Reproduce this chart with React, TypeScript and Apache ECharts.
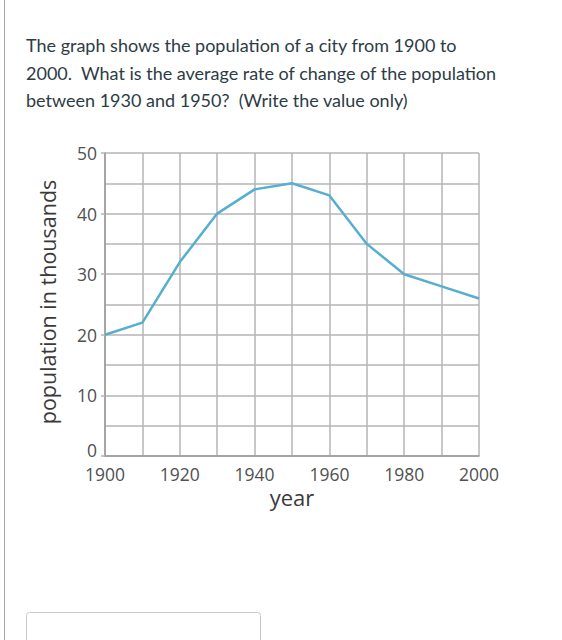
import React, { useEffect, useRef } from "react";
import * as echarts from "echarts";

const years = [1900, 1910, 1920, 1930, 1940, 1950, 1960, 1970, 1980, 1990, 2000];
const population = [20, 22, 32, 40, 44, 45, 43, 35, 30, 28, 26];
const questionLines = [
  "The graph shows the population of a city from 1900 to",
  "2000.\u00a0\u00a0What is the average rate of change of the population",
  "between 1930 and 1950?\u00a0\u00a0(Write the value only)",
];
const xAxisTitle = "year";
const yAxisTitle = "population in thousands";
const yMin = 0;

export default function App() {
  const ref = useRef<HTMLDivElement>(null);
  useEffect(() => {
    if (!ref.current) return;
    const chart = echarts.init(ref.current, null, { renderer: "svg" });
    const lineYs = [45, 73, 100];
    const option: any = {
      animation: false,
      backgroundColor: "#ffffff",
      grid: { left: 105, right: 83, top: 153, bottom: 184 },
      xAxis: {
        type: "value",
        min: 1900,
        max: 2000,
        interval: 20,
        axisLine: { show: true, lineStyle: { color: "#9a9a9a", width: 1.5 } },
        axisTick: { show: false },
        minorTick: { show: false, splitNumber: 2 },
        splitLine: { show: true, lineStyle: { color: "#b4b4b4", width: 1.5 } },
        minorSplitLine: { show: true, lineStyle: { color: "#b4b4b4", width: 1.5 } },
        axisLabel: {
          color: "#505050",
          fontFamily: "Open Sans",
          fontSize: 17.5,
          margin: 9,
          formatter: (v: number) => String(v),
        },
      },
      yAxis: {
        type: "value",
        min: yMin,
        max: 50,
        interval: 10,
        axisLine: { show: true, lineStyle: { color: "#9a9a9a", width: 1.5 } },
        axisTick: { show: true, length: 4, lineStyle: { color: "#b4b4b4", width: 1.5 } },
        minorTick: { show: false, splitNumber: 2 },
        splitLine: { show: true, lineStyle: { color: "#b4b4b4", width: 1.5 } },
        minorSplitLine: { show: true, lineStyle: { color: "#b4b4b4", width: 1.5 } },
        axisLabel: {
          color: "#505050",
          fontFamily: "Open Sans",
          fontSize: 17.5,
          margin: 8,
          formatter: (v: number) => (v === yMin ? "" : String(v)),
        },
      },
      series: [
        {
          type: "line",
          data: years.map((y, i) => [y, population[i]]),
          showSymbol: false,
          lineStyle: { color: "#55afd0", width: 2.5 },
          z: 5,
        },
      ],
    };
    chart.setOption(option);
    const origin = chart.convertToPixel({ gridIndex: 0 }, [1900, yMin]) as number[];
    chart.setOption({
      graphic: [
        {
          type: "line",
          shape: { x1: 4.5, y1: 0, x2: 4.5, y2: 640 },
          style: { stroke: "#a8a8a8", lineWidth: 1 },
        },
        ...questionLines.map((t, i) => ({
          type: "text",
          x: 26,
          y: lineYs[i],
          style: {
            text: t,
            fill: "#2d3b45",
            font: "18px Lato",
            verticalAlign: "middle",
          },
        })),
        {
          type: "text",
          x: origin[0] - 8,
          y: origin[1] + 3,
          style: {
            text: String(yMin),
            fill: "#505050",
            font: "17.5px 'Open Sans'",
            align: "right",
            verticalAlign: "bottom",
          },
        },
        {
          type: "text",
          x: 47,
          y: 302,
          rotation: Math.PI / 2,
          style: {
            text: yAxisTitle,
            fill: "#3a3a3a",
            font: "21.5px 'Open Sans'",
            align: "center",
            verticalAlign: "middle",
          },
        },
        {
          type: "text",
          x: 292,
          y: 497,
          style: {
            text: xAxisTitle,
            fill: "#3a3a3a",
            font: "22px 'Open Sans'",
            align: "center",
            verticalAlign: "middle",
          },
        },
        {
          type: "rect",
          shape: { x: 26.5, y: 612.5, width: 234, height: 40, r: 3 },
          style: { fill: "#ffffff", stroke: "#c8c8c8", lineWidth: 1 },
        },
      ],
    });
    return () => chart.dispose();
  }, []);
  return (
    <div
      ref={ref}
      style={{ position: "fixed", left: 0, top: 0, width: 562, height: 640 }}
    />
  );
}
